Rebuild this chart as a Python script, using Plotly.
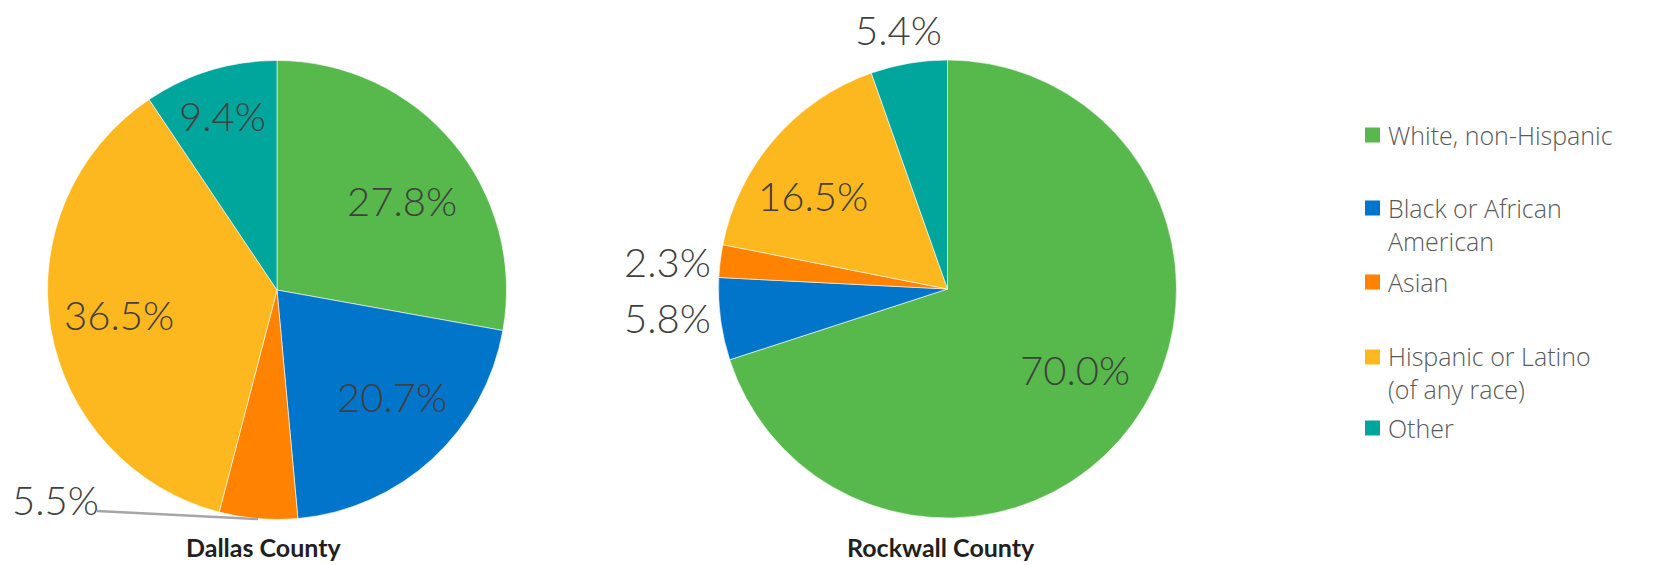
import plotly.graph_objects as go

W, H = 1660, 565

categories = ["White, non-Hispanic", "Black or African American", "Asian",
              "Hispanic or Latino (of any race)", "Other"]
legend_labels = ["White, non-Hispanic", "Black or African<br>American", "Asian",
                 "Hispanic or Latino<br>(of any race)", "Other"]
dallas_values = [27.8, 20.7, 5.5, 36.5, 9.4]
rockwall_values = [70.0, 5.8, 2.3, 16.5, 5.4]
county_names = ["Dallas County", "Rockwall County"]

colors = ["#57B84B", "#0075C9", "#FF8200", "#FDB71F", "#00A59B"]

LABEL_FONT = dict(family="Lato, 'Open Sans', sans-serif", size=40, color="#404040", weight=300)


def domain(cx, cy, r):
    return dict(x=[(cx - r) / W, (cx + r) / W], y=[(H - cy - r) / H, (H - cy + r) / H])


fig = go.Figure()
pies = [
    (dallas_values, domain(277, 290, 229.5)),
    (rockwall_values, domain(947.5, 289, 229)),
]
for vals, dom in pies:
    fig.add_trace(go.Pie(
        labels=categories, values=vals, sort=False, direction="clockwise", rotation=0,
        marker=dict(colors=colors, line=dict(color="white", width=0.6)),
        textinfo="none", hoverinfo="label+percent", showlegend=False, domain=dom,
    ))

annotations = []
# label positions (pixel coordinates from top-left) for each slice
dallas_pos = [(402, 201), (392, 397), (55, 500), (119, 315), (222, 116)]
rockwall_pos = [(1075, 370), (667, 318), (667, 262), (813, 196), (898, 30)]
for vals, pos in [(dallas_values, dallas_pos), (rockwall_values, rockwall_pos)]:
    for v, (x, y) in zip(vals, pos):
        annotations.append(dict(
            x=x / W, y=1 - y / H, xref="paper", yref="paper", showarrow=False,
            text=f"{v:.1f}%", font=LABEL_FONT, xanchor="center", yanchor="middle"))

# leader line for Dallas Asian label
shapes = [dict(type="line", xref="paper", yref="paper",
               x0=97 / W, y0=1 - 511 / H, x1=258 / W, y1=1 - 519 / H,
               line=dict(color="#A6A6A6", width=2.5))]

# county titles
for name, x in zip(county_names, [264, 941]):
    annotations.append(dict(
        x=x / W, y=1 - 564 / H, xref="paper", yref="paper", showarrow=False,
        text=f"<b>{name}</b>", xanchor="center", yanchor="bottom",
        font=dict(family="Lato, 'Open Sans', sans-serif", size=25, color="#231F20")))

# legend (manual placement)
legend_y = [135, 224, 282, 372, 428]
square_y = [135, 208, 282, 357, 428]
for lab, c, ty, sy in zip(legend_labels, colors, legend_y, square_y):
    shapes.append(dict(type="rect", xref="paper", yref="paper",
                       x0=1365 / W, x1=1380 / W, y0=1 - (sy + 7.5) / H, y1=1 - (sy - 7.5) / H,
                       fillcolor=c, line=dict(width=0)))
    annotations.append(dict(
        x=1386 / W, y=1 - ty / H, xref="paper", yref="paper", showarrow=False,
        text=lab, xanchor="left", yanchor="middle", align="left",
        font=dict(family="'Open Sans', Lato, sans-serif", size=25, color="#595959", weight=300)))

fig.update_layout(
    width=W, height=H, margin=dict(l=0, r=0, t=0, b=0),
    paper_bgcolor="white", plot_bgcolor="white",
    annotations=annotations, shapes=shapes, showlegend=False,
)

fig.write_html("out.html", config={"displayModeBar": False},
               post_script="document.body.style.margin='0';")
